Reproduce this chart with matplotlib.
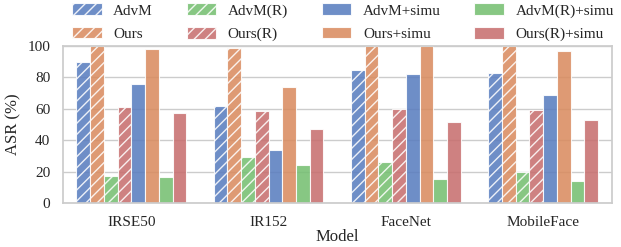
import numpy as np
import matplotlib
matplotlib.use("Agg")
import matplotlib.pyplot as plt
import seaborn as sns

sns.set_theme(style="whitegrid")
plt.rcParams['font.family'] = ['Liberation Serif', 'DejaVu Serif']
plt.rcParams['hatch.color'] = 'white'
plt.rcParams['hatch.linewidth'] = 1.0

models = ["IRSE50", "IR152", "FaceNet", "MobileFace"]
methods = ["AdvM", "Ours", "AdvM(R)", "Ours(R)",
           "AdvM+simu", "Ours+simu", "AdvM(R)+simu", "Ours(R)+simu"]
asr = {
    "AdvM":         [90, 62, 85, 82.5],
    "Ours":         [100, 99, 100, 100],
    "AdvM(R)":      [17, 29, 26, 20],
    "Ours(R)":      [61, 58.5, 60, 59.5],
    "AdvM+simu":    [76, 34, 82, 68.5],
    "Ours+simu":    [98, 74, 100, 96.5],
    "AdvM(R)+simu": [16.5, 24, 15.5, 14],
    "Ours(R)+simu": [57, 47, 51.5, 53],
}

# seaborn barplot look: muted palette, desaturated
pal = [sns.desaturate(c, 0.75) for c in sns.color_palette("muted")]
colors = [pal[0], pal[1], pal[2], pal[3]] * 2
hatches = ["///"] * 4 + [""] * 4

fig, ax = plt.subplots(figsize=(6.21, 2.47), dpi=100)
x = np.arange(len(models))
width = 0.8 / len(methods)
for i, m in enumerate(methods):
    ax.bar(x - 0.4 + width * (i + 0.5), asr[m], width, color=colors[i],
           hatch=hatches[i], edgecolor='white', linewidth=0.8, alpha=0.87,
           label=m)

ax.set_xticks(x)
ax.set_xticklabels(models, fontsize=11)
ax.set_xlim(-0.5, 3.5)
ax.set_ylim(0, 100)
ax.set_yticks(range(0, 101, 20))
ax.tick_params(axis='y', labelsize=11, pad=3)
ax.tick_params(axis='x', pad=3)
ax.set_xlabel("Model", fontsize=12, labelpad=0)
ax.set_ylabel("ASR (%)", fontsize=12, labelpad=4)
ax.grid(axis='x', visible=False)

ax.legend(ncol=4, loc='lower left', bbox_to_anchor=(0.014, 1.02), frameon=False,
          fontsize=11, handlelength=1.95, handleheight=0.8, columnspacing=2.2,
          labelspacing=0.6, borderaxespad=0, borderpad=0.1, handletextpad=0.75)

fig.subplots_adjust(left=0.101, right=0.985, top=0.814, bottom=0.178)
fig.savefig("out.png", dpi=100)
